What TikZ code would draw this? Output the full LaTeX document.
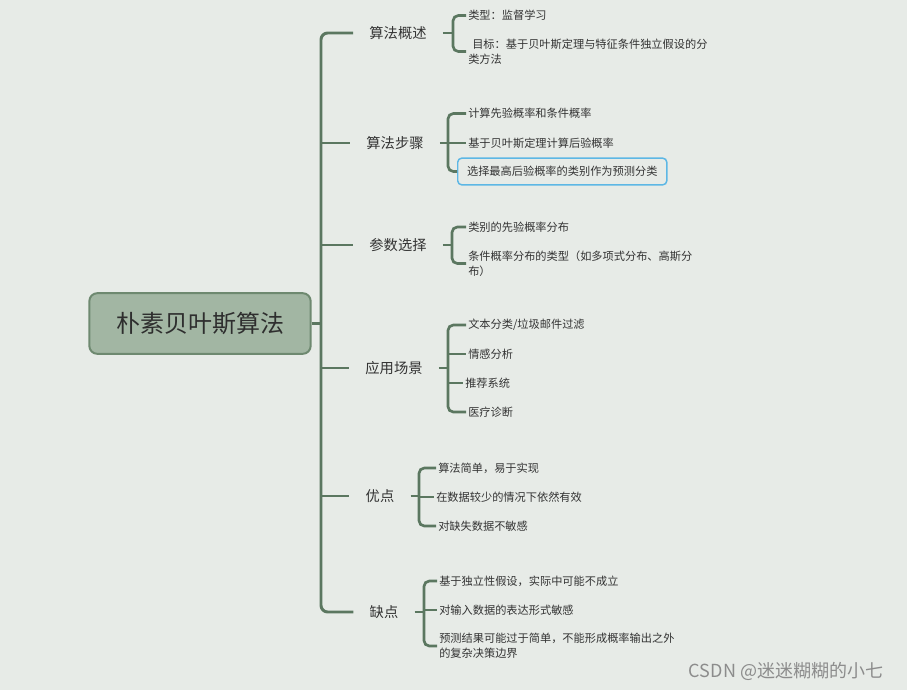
\documentclass[tikz,border=0pt]{standalone}
\usepackage{fontspec}
\setmainfont{Noto Sans CJK SC}
\definecolor{bgc}{HTML}{E7EBE7}
\definecolor{lc}{HTML}{5B7760}
\definecolor{rootfill}{HTML}{A2B6A3}
\definecolor{rootline}{HTML}{6E8970}
\definecolor{txt}{HTML}{333333}
\definecolor{sel}{HTML}{5DB7E5}
\begin{document}
\begin{tikzpicture}[x=0.75pt,y=-0.75pt,
  conn/.style={draw=lc, line width=2.2pt, rounded corners=5pt},
  sub/.style={draw=lc, line width=2pt, rounded corners=4pt},
  rootbox/.style={draw=rootline, fill=rootfill, line width=1.5pt, rounded corners=6pt,
    minimum width=166pt, minimum height=45.5pt, font=\fontsize{18}{22}\selectfont, text=txt!90!black},
  branch/.style={inner xsep=12pt, inner ysep=2pt, font=\fontsize{10.7}{13}\selectfont, text=txt},
  leaf/.style={anchor=west, inner xsep=1.5pt, inner ysep=1pt, font=\fontsize{8.4}{11.25}\selectfont,
    align=left, text=txt},
  selbox/.style={draw=sel, line width=1.1pt, rounded corners=3pt, inner xsep=7pt, minimum height=20pt}
]
\fill[bgc] (0,0) rectangle (907,690);
\useasboundingbox (0,0) rectangle (907,690);

% root
\node[rootbox] (root) at (200,323.5) {朴素贝叶斯算法};
\coordinate (t) at (321,323.5);

% branches
\node[branch] (b1) at (398,33) {算法概述};
\node[branch] (b2) at (395,143) {算法步骤};
\node[branch] (b3) at (398,245) {参数选择};
\node[branch] (b4) at (394,368) {应用场景};
\node[branch] (b5) at (380,496) {优点};
\node[branch] (b6) at (384,612) {缺点};

\draw[conn] (root.east) -- (t);
\draw[conn] (b1.west) -- (b1.west -| t) -- (b6.west -| t) -- (b6.west);
\foreach \b in {b2,b3,b4,b5} \draw[conn] (\b.west -| t) -- (\b.west);

% leaves
\node[leaf] (c11) at (466,15.5) {类型：监督学习};
\node[leaf] (c12) at (466,51.5) {\hspace{3pt}目标：基于贝叶斯定理与特征条件独立假设的分\\类方法};

\node[leaf] (c21) at (466,113.5) {计算先验概率和条件概率};
\node[leaf] (c22) at (466,143) {基于贝叶斯定理计算后验概率};
\node[leaf,selbox] (c23) at (457,171.5) {选择最高后验概率的类别作为预测分类};

\node[leaf] (c31) at (466,227) {类别的先验概率分布};
\node[leaf] (c32) at (466,263.5) {条件概率分布的类型（如多项式分布、高斯分\\布）};

\node[leaf] (c41) at (466,325) {文本分类/垃圾邮件过滤};
\node[leaf] (c42) at (466,354) {情感分析};
\node[leaf] (c43) at (463,383) {推荐系统};
\node[leaf] (c44) at (466,412) {医疗诊断};

\node[leaf] (c51) at (436,468) {算法简单，易于实现};
\node[leaf] (c52) at (434,497) {在数据较少的情况下依然有效};
\node[leaf] (c53) at (436,526) {对缺失数据不敏感};

\node[leaf] (c61) at (437,581) {基于独立性假设，实际中可能不成立};
\node[leaf] (c62) at (437,610) {对输入数据的表达形式敏感};
\node[leaf] (c63) at (437,646) {预测结果可能过于简单，不能形成概率输出之外\\的复杂决策边界};

% sub brackets
\coordinate (s1) at (453,33);
\draw[sub] (b1.east) -- (s1);
\draw[sub] (c11.west) -- (c11.west -| s1) -- (c12.west -| s1) -- (c12.west);

\coordinate (s2) at (448,143);
\draw[sub] (b2.east) -- (s2);
\draw[sub] (c21.west) -- (c21.west -| s2) -- (c23.west -| s2) -- (c23.west);
\draw[sub] (c22.west -| s2) -- (c22.west);

\coordinate (s3) at (452,245);
\draw[sub] (b3.east) -- (s3);
\draw[sub] (c31.west) -- (c31.west -| s3) -- (c32.west -| s3) -- (c32.west);

\coordinate (s4) at (448,368);
\draw[sub] (b4.east) -- (s4);
\draw[sub] (c41.west) -- (c41.west -| s4) -- (c44.west -| s4) -- (c44.west);
\draw[sub] (c42.west -| s4) -- (c42.west);
\draw[sub] (c43.west -| s4) -- (c43.west);

\coordinate (s5) at (419,496);
\draw[sub] (b5.east) -- (s5);
\draw[sub] (c51.west) -- (c51.west -| s5) -- (c53.west -| s5) -- (c53.west);
\draw[sub] (c52.west -| s5) -- (c52.west);

\coordinate (s6) at (424,612);
\draw[sub] (b6.east) -- (s6);
\draw[sub] (c61.west) -- (c61.west -| s6) -- (c63.west -| s6) -- (c63.west);
\draw[sub] (c62.west -| s6) -- (c62.west);

% watermark
\node[font=\fontsize{13.5}{16}\selectfont, text=black!45] (wm) at (786,671) {CSDN @迷迷糊糊的小七};
\end{tikzpicture}
\end{document}
